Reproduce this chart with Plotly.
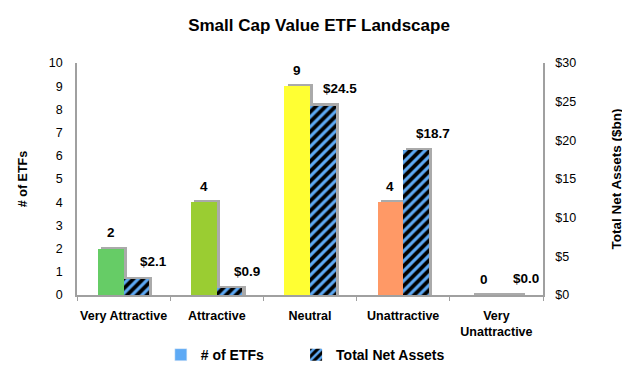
import plotly.graph_objects as go

categories = ["Very Attractive", "Attractive", "Neutral", "Unattractive", "Very<br>Unattractive"]
etf_counts = [2, 4, 9, 4, 0]
net_assets = [2.1, 0.9, 24.5, 18.7, 0.0]
count_labels = ["2", "4", "9", "4", "0"]
asset_labels = ["$2.1", "$0.9", "$24.5", "$18.7", "$0.0"]
bar_colors = ["#66cc66", "#9acd32", "#ffff33", "#ff9966", "#e04040"]

FONT = "Liberation Sans, Arial, sans-serif"
W = 0.275
SH = 0.035
shadow = "#aaaaaa"
FIG_W, FIG_H = 622, 361
ML, MR, MT, MB = 69, 87, 55, 74
CAT_PX = (FIG_W - ML - MR) / len(categories)

fig = go.Figure()
# shadows
fig.add_trace(go.Bar(x=categories, y=[v + 0.09 for v in etf_counts], width=W, offset=-W + SH,
                     marker=dict(color=shadow, line=dict(width=0)), showlegend=False, hoverinfo="skip"))
fig.add_trace(go.Bar(x=categories, y=[v + 0.27 for v in net_assets], width=W, offset=SH, yaxis="y2",
                     marker=dict(color=shadow, line=dict(width=0)), showlegend=False, hoverinfo="skip"))
# real bars
fig.add_trace(go.Bar(x=categories, y=etf_counts, width=W, offset=-W, name="# of ETFs",
                     marker=dict(color=bar_colors, line=dict(width=0)), showlegend=False))
fig.add_trace(go.Bar(x=categories, y=net_assets, width=W, offset=0, yaxis="y2",
                     name="<b>Total Net Assets</b>",
                     marker=dict(color="black", line=dict(width=0),
                                 pattern=dict(shape="/", fgcolor="#5eaaf5", bgcolor="black",
                                              size=7, solidity=0.45, fillmode="replace")),
                     legendrank=2))
# legend-only proxy for count series
fig.add_trace(go.Bar(x=[categories[0]], y=[None],
                     name="<b># of ETFs</b>" + "\u00a0" * 7,
                     marker=dict(color="#5eaaf5"), legendrank=1))

for c, v, t in zip(categories, etf_counts, count_labels):
    fig.add_annotation(x=c, y=v, yref="y", text=f"<b>{t}</b>", showarrow=False,
                       xshift=-W * CAT_PX / 2, yshift=16, font=dict(size=13.5, color="black", family=FONT))
for c, v, t in zip(categories, net_assets, asset_labels):
    fig.add_annotation(x=c, y=v, yref="y2", text=f"<b>{t}</b>", showarrow=False,
                       xshift=W * CAT_PX / 2 + 17, yshift=17, font=dict(size=13.5, color="black", family=FONT))

axis_line = "#a0a0a0"
fig.update_layout(
    width=FIG_W, height=FIG_H,
    margin=dict(l=ML, r=MR, t=MT, b=MB, autoexpand=False),
    paper_bgcolor="white", plot_bgcolor="white",
    barmode="overlay",
    font=dict(family=FONT, size=12, color="black"),
    title=dict(text="<b>Small Cap Value ETF Landscape</b>", x=0.5, xanchor="center",
               y=0.953, yanchor="middle", font=dict(size=17, color="black")),
    xaxis=dict(type="category", showline=True, linecolor=axis_line, linewidth=1.5,
               ticks="outside", tickson="boundaries", ticklen=4, tickcolor=axis_line,
               tickfont=dict(size=12.5), tickangle=0, showgrid=False, range=[-0.5, 4.5],
               automargin=False, tickprefix="<b>", ticksuffix="</b>", ticklabelstandoff=8),
    yaxis=dict(range=[0, 10], dtick=1, showline=True, linecolor=axis_line, linewidth=1.5,
               showgrid=False, zeroline=False, ticks="", tickfont=dict(size=12.5),
               ticklabelstandoff=10, automargin=False,
               title=dict(text="<b># of ETFs</b>", font=dict(size=12.5), standoff=18)),
    yaxis2=dict(range=[0, 30], dtick=5, overlaying="y", side="right", showline=True,
                linecolor=axis_line, linewidth=1.5, showgrid=False, zeroline=False, ticks="",
                tickprefix="$", tickfont=dict(size=12.5), ticklabelstandoff=8, automargin=False,
                title=dict(text="<b>Total Net Assets ($bn)</b>", font=dict(size=13.5), standoff=36)),
    legend=dict(orientation="h", x=0.49, xanchor="center", y=-0.19, yanchor="top",
                font=dict(size=14), itemwidth=30, traceorder="normal", tracegroupgap=0),
    bargap=0,
)
fig.write_html("out.html")
